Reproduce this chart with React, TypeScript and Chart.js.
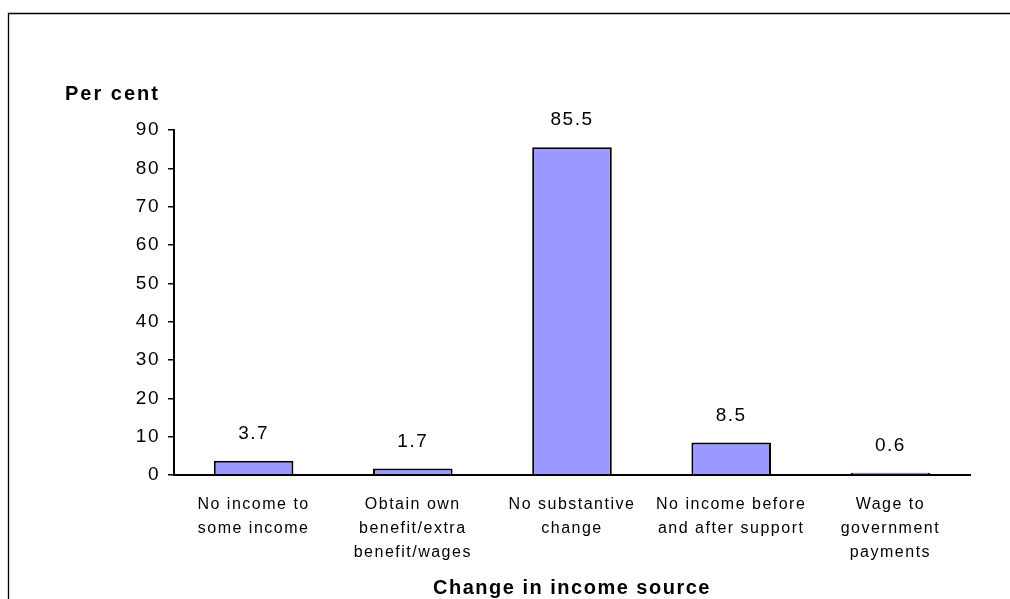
import React, { useEffect, useRef } from "react";
import { Chart, registerables } from "chart.js";

Chart.register(...registerables);

const categories: string[][] = [
  ["No income to", "some income"],
  ["Obtain own", "benefit/extra", "benefit/wages"],
  ["No substantive", "change"],
  ["No income before", "and after support"],
  ["Wage to", "government", "payments"],
];
const values: number[] = [3.7, 1.7, 85.5, 8.5, 0.6];
const valueLabels: string[] = ["3.7", "1.7", "85.5", "8.5", "0.6"];
const yAxisLabel = "Per cent";
const xAxisLabel = "Change in income source";
const yMin = 0;
const yMax = 90;
const yStep = 10;

const FONT = "'Liberation Sans', Arial, sans-serif";

const spacingPlugin = {
  id: "spacing",
  beforeLayout(chart: any) {
    chart.ctx.letterSpacing = "1.5px";
  },
  beforeDraw(chart: any) {
    chart.ctx.letterSpacing = "1.5px";
  },
};

const framePlugin = {
  id: "frame",
  beforeDraw(chart: any) {
    const ctx = chart.ctx;
    ctx.save();
    ctx.strokeStyle = "#000";
    ctx.lineWidth = 1.3;
    ctx.beginPath();
    ctx.moveTo(8.5, chart.height + 5);
    ctx.lineTo(8.5, 13.5);
    ctx.lineTo(chart.width + 5, 13.5);
    ctx.stroke();
    ctx.restore();
  },
};

const labelsPlugin = {
  id: "valueLabels",
  afterDraw(chart: any) {
    const ctx = chart.ctx;
    const meta = chart.getDatasetMeta(0);
    const area = chart.chartArea;
    ctx.save();
    ctx.letterSpacing = "1.5px";
    ctx.fillStyle = "#000";
    ctx.textAlign = "center";
    ctx.textBaseline = "middle";
    ctx.font = `19px ${FONT}`;
    meta.data.forEach((bar: any, i: number) => {
      ctx.fillText(valueLabels[i], bar.x, bar.y - 27);
    });
    ctx.letterSpacing = "2px";
    ctx.font = `bold 20px ${FONT}`;
    ctx.textAlign = "left";
    ctx.fillText(yAxisLabel, area.left - 109, area.top - 36);
    ctx.restore();
  },
};

export default function App() {
  const ref = useRef<HTMLCanvasElement>(null);
  useEffect(() => {
    if (!ref.current) return;
    const chart = new Chart(ref.current, {
      type: "bar",
      data: {
        labels: categories,
        datasets: [
          {
            data: values,
            backgroundColor: "#9999FF",
            borderColor: "#000",
            borderWidth: 2,
            barPercentage: 0.5,
            categoryPercentage: 1,
          },
        ],
      },
      options: {
        animation: false,
        responsive: false,
        devicePixelRatio: 1,
        layout: { padding: { left: 0, right: 40, top: 130, bottom: 0 } },
        plugins: {
          legend: { display: false },
          tooltip: { enabled: false },
          title: { display: false },
        },
        scales: {
          x: {
            grid: { display: false },
            border: { display: true, color: "#000", width: 2 },
            ticks: {
              color: "#000",
              font: { family: FONT, size: 16, lineHeight: 1.5 },
              padding: 10,
              maxRotation: 0,
              autoSkip: false,
            },
            title: {
              display: true,
              text: xAxisLabel,
              color: "#000",
              font: { family: FONT, size: 20, weight: "bold", lineHeight: 1 },
              padding: { top: 0, bottom: 1 },
            },
            afterFit(scale: any) {
              scale.height = 124;
            },
          },
          y: {
            min: yMin,
            max: yMax,
            grid: {
              display: true,
              drawOnChartArea: false,
              drawTicks: true,
              tickLength: 6,
              color: "#000",
              lineWidth: 1.5,
            },
            border: { display: true, color: "#000", width: 2 },
            ticks: {
              stepSize: yStep,
              color: "#000",
              padding: 8,
              font: { family: FONT, size: 19 },
            },
            afterFit(scale: any) {
              scale.width = 174;
            },
          },
        },
      },
      plugins: [spacingPlugin, framePlugin, labelsPlugin],
    });
    return () => chart.destroy();
  }, []);
  return (
    <div style={{ position: "absolute", left: 0, top: 0, width: 1010, height: 599, background: "#fff" }}>
      <canvas ref={ref} width={1010} height={599} style={{ display: "block" }} />
    </div>
  );
}
